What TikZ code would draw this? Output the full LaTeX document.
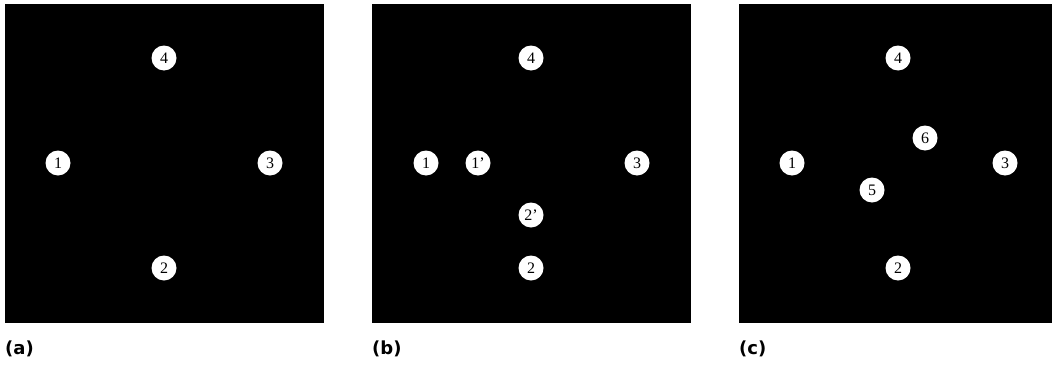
\documentclass[tikz,border=0pt]{standalone}
\usepackage{fontspec}
\newfontfamily\capfont{DejaVu Sans}
\newfontfamily\numfont{Liberation Serif}
\begin{document}
\begin{tikzpicture}[x=1pt,y=-1pt,
  panel/.style={fill=black,draw=none},
  dot/.style={circle,fill=white,draw=none,minimum size=25pt,inner sep=0pt,font=\fontsize{16}{16}\selectfont\numfont},
  caption/.style={anchor=north west,inner sep=0pt,font=\fontsize{18}{18}\selectfont\capfont\bfseries}]
\useasboundingbox[fill=white] (0,0) rectangle (1052,367);
% panel backgrounds
\fill[panel] (5,4) rectangle (324,323);
\fill[panel] (372,4) rectangle (691,323);
\fill[panel] (739,4) rectangle (1052,323);
% panel (a)
\node[dot] (a4) at (164,58) {4};
\node[dot] (a1) at (58,163) {1};
\node[dot] (a3) at (270,163) {3};
\node[dot] (a2) at (164,268) {2};
% panel (b)
\node[dot] (b4) at (531,58) {4};
\node[dot] (b1) at (426,163) {1};
\node[dot] (b1p) at (478,163) {1’};
\node[dot] (b3) at (637,163) {3};
\node[dot] (b2p) at (531,215) {2’};
\node[dot] (b2) at (531,268) {2};
% panel (c)
\node[dot] (c4) at (898,58) {4};
\node[dot] (c6) at (925,138) {6};
\node[dot] (c1) at (792,163) {1};
\node[dot] (c3) at (1005,163) {3};
\node[dot] (c5) at (872,190) {5};
\node[dot] (c2) at (898,268) {2};
% captions
\node[caption] (capa) at (5,341) {(a)};
\node[caption] (capb) at (372,341) {(b)};
\node[caption] (capc) at (739,341) {(c)};
\end{tikzpicture}
\end{document}
